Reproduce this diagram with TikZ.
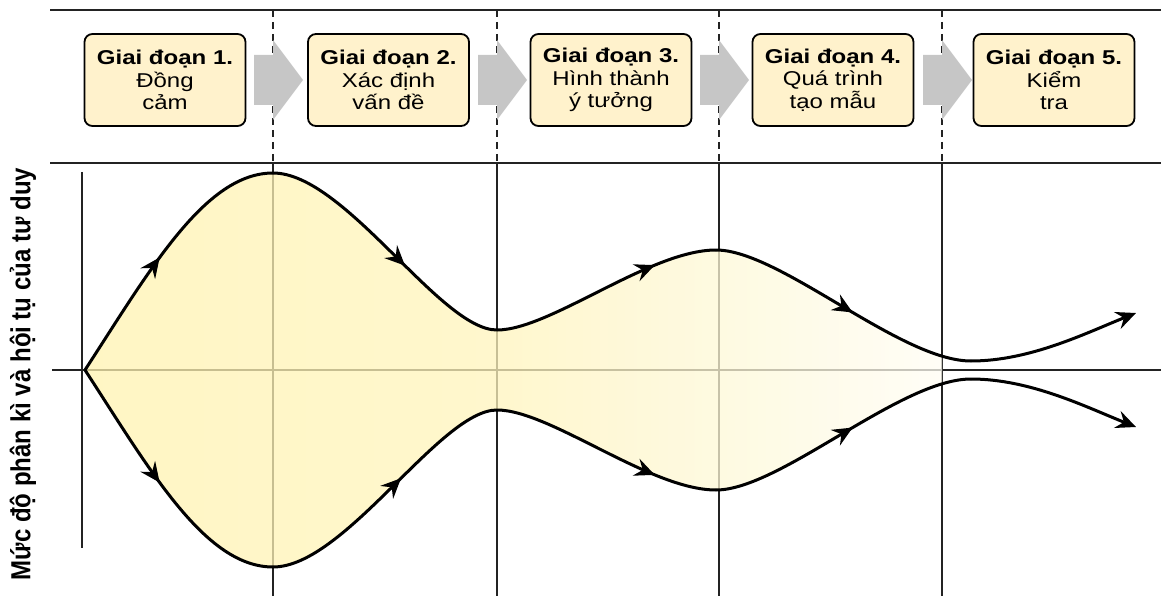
\documentclass[tikz,border=0pt]{standalone}
\usepackage{fontspec}
\setmainfont{Liberation Sans}
\newfontfamily\boxfont[FakeStretch=1.2]{Liberation Sans}
\usetikzlibrary{arrows.meta,decorations.markings,calc}
\definecolor{boxfill}{RGB}{255,242,204}
\definecolor{fanA}{RGB}{255,243,176}
\definecolor{fanB}{RGB}{255,244,188}
\definecolor{fanC}{RGB}{254,248,215}
\definecolor{fanD}{RGB}{255,253,245}
\definecolor{arrowgray}{RGB}{198,198,198}
\definecolor{gridline}{RGB}{35,35,35}
\pgfdeclarehorizontalshading{fanshade}{100bp}{color(0bp)=(fanA); color(25bp)=(fanA); color(48bp)=(fanB); color(61bp)=(fanC); color(74bp)=(fanD); color(100bp)=(fanD)}
\tikzset{
  stagebox/.style={draw=black, line width=1.8pt, rounded corners=8pt, fill=boxfill,
    minimum width=161pt, minimum height=92pt, inner sep=0pt, align=center,
    font=\boxfont\fontsize{20}{22.5}\selectfont},
  gridln/.style={draw=gridline, line width=1.8pt},
  dashln/.style={draw=gridline, line width=1.8pt, dash pattern=on 7pt off 5pt},
  curveln/.style={draw=black, line width=3pt},
  tipstyle/.tip={Stealth[length=20pt,width=18pt,inset=7pt]},
  midarrow/.style={postaction={decorate}, decoration={markings,
    mark=at position #1 with {\arrow{tipstyle}}}},
  grayarrow/.style={fill=arrowgray, draw=none}
}
\begin{document}
\begin{tikzpicture}[x=1pt,y=-1pt]
\useasboundingbox (0,0) rectangle (1161,596);
% grid lines
\draw[gridln] (50,10) -- (1161,10);
\draw[gridln] (50,163) -- (1161,163);
\foreach \xx in {273,497,719,942}{
  \draw[dashln] (\xx,10) -- (\xx,163);
  \draw[gridln] (\xx,163) -- (\xx,596);
}
\draw[gridln] (82,172) -- (82,548);
\draw[gridln] (52,370) -- (1161,370);
% fill
\begin{scope}
\clip (0,0) rectangle (942,596);
\path[shading=fanshade, fill opacity=0.75]
  (85,370) .. controls (150,270) and (205,173) .. (273,173)
  .. controls (345,173) and (440,330) .. (497,330)
  .. controls (550,330) and (650,250) .. (716,250)
  .. controls (780,250) and (900,361) .. (971,361)
  -- (971,379)
  .. controls (900,379) and (780,490) .. (716,490)
  .. controls (650,490) and (550,410) .. (497,410)
  .. controls (440,410) and (345,567) .. (273,567)
  .. controls (205,567) and (150,470) .. (85,370) -- cycle;
\end{scope}
% upper curve
\draw[curveln, midarrow=0.48] (85,370) .. controls (150,270) and (205,173) .. (273,173);
\draw[curveln, midarrow=0.59] (273,173) .. controls (345,173) and (440,330) .. (497,330);
\draw[curveln, midarrow=0.73] (497,330) .. controls (550,330) and (650,250) .. (716,250);
\draw[curveln, midarrow=0.54] (716,250) .. controls (780,250) and (900,361) .. (971,361);
\draw[curveln, -{tipstyle}] (971,361) .. controls (1030,361) and (1086,333) .. (1136,313);
% lower curve
\draw[curveln, midarrow=0.48] (85,370) .. controls (150,470) and (205,567) .. (273,567);
\draw[curveln, midarrow=0.57] (273,567) .. controls (345,567) and (440,410) .. (497,410);
\draw[curveln, midarrow=0.73] (497,410) .. controls (550,410) and (650,490) .. (716,490);
\draw[curveln, midarrow=0.54] (716,490) .. controls (780,490) and (900,379) .. (971,379);
\draw[curveln, -{tipstyle}] (971,379) .. controls (1030,379) and (1086,407) .. (1136,427);
% stage boxes
\node[stagebox] (b1) at (165,80) {\bfseries Giai đoạn 1.\\Đồng\\cảm};
\node[stagebox] (b2) at (388.5,80) {\bfseries Giai đoạn 2.\\Xác định\\vấn đề};
\node[stagebox] (b3) at (611,80) {\bfseries Giai đoạn 3.\\Hình thành\\ý tưởng};
\node[stagebox] (b4) at (833,80) {\bfseries Giai đoạn 4.\\Quá trình\\tạo mẫu};
\node[stagebox] (b5) at (1054,80) {\bfseries Giai đoạn 5.\\Kiểm\\tra};
% gray arrows
\foreach \xx in {273,497,719,942}{
  \fill[grayarrow] (\xx-19,55) -- (\xx,55) -- (\xx,40) -- (\xx+30,80)
    -- (\xx,120) -- (\xx,105) -- (\xx-19,105) -- cycle;
}
% axis label
\node[rotate=90, font=\bfseries\fontsize{24}{28}\selectfont] (lbl) at (23,374)
  {\scalebox{1}[1.15]{Mức độ phân kì và hội tụ của tư duy}};
\end{tikzpicture}
\end{document}
